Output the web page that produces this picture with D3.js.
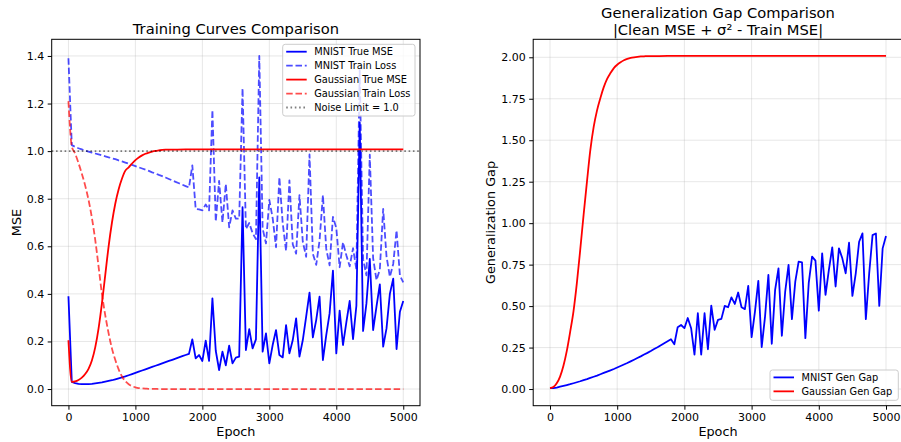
<!DOCTYPE html>
<html>
<head>
<meta charset="utf-8">
<script src="https://cdnjs.cloudflare.com/ajax/libs/d3/7.8.5/d3.min.js"></script>
<style>
  body { margin: 0; background: #fff; }
  svg { display: block; font-family: "DejaVu Sans", sans-serif; }
</style>
</head>
<body>
<div id="plot"></div>
<script>
// MNIST runs are logged every 50 epochs
var epochs = d3.range(0, 5001, 50)

var mnistTrueMse = [
  0.390, 0.030, 0.025, 0.022, 0.021, 0.021, 0.021, 0.022, 0.024, 0.026,
  0.028, 0.031, 0.034, 0.037, 0.041, 0.045, 0.049, 0.053, 0.058, 0.063,
  0.068, 0.073, 0.078, 0.083, 0.088, 0.093, 0.098, 0.103, 0.108, 0.113,
  0.118, 0.123, 0.128, 0.133, 0.138, 0.143, 0.148, 0.209, 0.129, 0.143,
  0.118, 0.203, 0.118, 0.381, 0.161, 0.080, 0.157, 0.100, 0.182, 0.108,
  0.132, 0.136, 0.764, 0.164, 0.252, 0.171, 0.209, 0.890, 0.157, 0.234,
  0.108, 0.185, 0.248, 0.143, 0.133, 0.269, 0.150, 0.206, 0.297, 0.136,
  0.206, 0.304, 0.405, 0.217, 0.290, 0.388, 0.122, 0.227, 0.318, 0.498,
  0.150, 0.330, 0.185, 0.280, 0.370, 0.210, 0.350, 1.120, 0.244, 0.360,
  0.547, 0.248, 0.346, 0.440, 0.178, 0.255, 0.400, 0.464, 0.168, 0.325,
  0.370
]

var mnistTrainLoss = [
  1.390, 1.025, 1.018, 1.012, 1.007, 1.002, 0.998, 0.994, 0.990, 0.986,
  0.982, 0.978, 0.974, 0.970, 0.966, 0.961, 0.957, 0.952, 0.947, 0.942,
  0.937, 0.932, 0.927, 0.922, 0.917, 0.911, 0.906, 0.900, 0.895, 0.889,
  0.883, 0.877, 0.871, 0.865, 0.859, 0.853, 0.847, 0.940, 0.757, 0.755,
  0.751, 0.776, 0.751, 1.173, 0.704, 0.875, 0.700, 0.862, 0.680, 0.751,
  0.716, 0.716, 1.264, 0.673, 0.698, 0.655, 0.630, 1.400, 0.675, 0.612,
  0.795, 0.718, 0.596, 0.890, 0.696, 0.581, 0.877, 0.608, 0.569, 0.815,
  0.618, 0.556, 0.986, 0.569, 0.522, 0.624, 0.815, 0.589, 0.520, 0.724,
  0.677, 0.512, 0.617, 0.562, 0.516, 0.592, 0.502, 1.340, 0.546, 0.478,
  0.985, 0.550, 0.458, 0.502, 0.757, 0.557, 0.472, 0.526, 0.667, 0.477,
  0.448
]

var mnistGenGap = [
  0.005, 0.006, 0.009, 0.014, 0.019, 0.024, 0.029, 0.035, 0.041, 0.047,
  0.054, 0.060, 0.067, 0.074, 0.081, 0.089, 0.097, 0.105, 0.113, 0.121,
  0.130, 0.139, 0.148, 0.157, 0.167, 0.177, 0.187, 0.197, 0.208, 0.218,
  0.229, 0.241, 0.252, 0.264, 0.276, 0.288, 0.300, 0.270, 0.373, 0.386,
  0.367, 0.428, 0.367, 0.207, 0.457, 0.207, 0.457, 0.240, 0.503, 0.357,
  0.417, 0.423, 0.501, 0.493, 0.553, 0.513, 0.582, 0.493, 0.482, 0.622,
  0.313, 0.467, 0.652, 0.253, 0.437, 0.688, 0.273, 0.598, 0.728, 0.321,
  0.588, 0.748, 0.421, 0.648, 0.768, 0.764, 0.307, 0.638, 0.798, 0.774,
  0.473, 0.818, 0.568, 0.718, 0.854, 0.618, 0.848, 0.788, 0.698, 0.882,
  0.562, 0.698, 0.888, 0.938, 0.421, 0.698, 0.928, 0.938, 0.501, 0.848,
  0.922
]

// Gaussian runs are smooth, fewer points needed once they flatten out
var gaussEpochs = [
  0, 50, 100, 150, 200, 250, 300, 350, 400, 450,
  500, 550, 600, 650, 700, 750, 800, 850, 900, 950,
  1000, 1050, 1100, 1150, 1200, 1250, 1300, 1350, 1400, 1450,
  1500, 1750, 2000, 2500, 3000, 3500, 4000, 4500, 5000
]

var gaussTrueMse = [
  0.205, 0.030, 0.032, 0.038, 0.048, 0.063, 0.085, 0.120, 0.175, 0.255,
  0.360, 0.480, 0.600, 0.700, 0.780, 0.840, 0.885, 0.918, 0.932, 0.948,
  0.962, 0.973, 0.982, 0.989, 0.994, 0.998, 1.001, 1.003, 1.005, 1.006,
  1.006, 1.007, 1.007, 1.007, 1.007, 1.007, 1.007, 1.007, 1.007
]

var gaussTrainLoss = [
  1.210, 1.020, 0.990, 0.950, 0.905, 0.855, 0.795, 0.720, 0.627, 0.515,
  0.400, 0.310, 0.234, 0.170, 0.122, 0.083, 0.053, 0.033, 0.020, 0.012,
  0.007, 0.004, 0.003, 0.002, 0.001, 0.001, 0.001, 0.000, 0.000, 0.000,
  0.000, 0.000, 0.000, 0.000, 0.000, 0.000, 0.000, 0.000, 0.000
]

var gaussGenGap = [
  0.005, 0.012, 0.035, 0.075, 0.140, 0.230, 0.345, 0.470, 0.640, 0.840,
  1.050, 1.250, 1.440, 1.580, 1.680, 1.755, 1.820, 1.870, 1.905, 1.935,
  1.955, 1.970, 1.982, 1.990, 1.996, 2.000, 2.003, 2.005, 2.006, 2.007,
  2.007, 2.008, 2.008, 2.008, 2.008, 2.008, 2.008, 2.008, 2.008
]

var noiseLimit = 1.0

var xTicks = [0, 1000, 2000, 3000, 4000, 5000]
var mseTicks = [0.0, 0.2, 0.4, 0.6, 0.8, 1.0, 1.2, 1.4]
var gapTicks = [0.0, 0.25, 0.5, 0.75, 1.0, 1.25, 1.5, 1.75, 2.0]

var svgWidth = 901
var svgHeight = 442

var svg = d3.select("#plot")
  .append("svg")
  .attr("width", svgWidth)
  .attr("height", svgHeight)

// matplotlib style 5% padding around the data
function padded(values) {
  var lo = d3.min(values), hi = d3.max(values)
  var pad = (hi - lo) * 0.05
  return [lo - pad, hi + pad]
}

function makePanel(box, yDomain, yTicks, yFormat) {
  var x = d3.scaleLinear().domain([-250, 5250]).range([box.left, box.right])
  var y = d3.scaleLinear().domain(yDomain).range([box.bottom, box.top])
  var g = svg.append("g")

  // grid
  g.selectAll(".vgrid").data(xTicks).enter().append("line")
    .attr("x1", d => x(d)).attr("x2", d => x(d))
    .attr("y1", box.top).attr("y2", box.bottom)
    .attr("stroke", "#b0b0b0").attr("stroke-opacity", 0.3).attr("stroke-width", 1)
  g.selectAll(".hgrid").data(yTicks).enter().append("line")
    .attr("x1", box.left).attr("x2", box.right)
    .attr("y1", d => y(d)).attr("y2", d => y(d))
    .attr("stroke", "#b0b0b0").attr("stroke-opacity", 0.3).attr("stroke-width", 1)

  // axes
  var bottomAxis = d3.axisBottom(x).tickValues(xTicks).tickFormat(d3.format("d"))
    .tickSize(4).tickPadding(3.5).tickSizeOuter(0)
  var leftAxis = d3.axisLeft(y).tickValues(yTicks).tickFormat(d3.format(yFormat))
    .tickSize(4).tickPadding(3.5).tickSizeOuter(0)

  var xa = g.append("g").attr("transform", `translate(0, ${box.bottom})`).call(bottomAxis)
  var ya = g.append("g").attr("transform", `translate(${box.left}, 0)`).call(leftAxis)
  ;[xa, ya].forEach(a => {
    a.select(".domain").remove()
    a.selectAll("text").style("font-size", "11px").style("font-family", "DejaVu Sans").attr("fill", "#000")
    a.selectAll("line").attr("stroke", "#000").attr("stroke-width", 1)
  })

  return { x: x, y: y, g: g, box: box }
}

function drawLine(p, xs, ys, color, opts) {
  opts = opts || {}
  var line = d3.line()
    .x((d, i) => p.x(xs[i]))
    .y(d => p.y(d))
    .curve(opts.smooth ? d3.curveMonotoneX : d3.curveLinear)
  p.g.append("path")
    .datum(ys)
    .attr("d", line)
    .attr("fill", "none")
    .attr("stroke", color)
    .attr("stroke-width", 1.8)
    .attr("stroke-opacity", opts.opacity || 1)
    .attr("stroke-dasharray", opts.dash || null)
    .attr("stroke-linejoin", "round")
}

function drawFrame(p) {
  var b = p.box
  p.g.append("rect")
    .attr("x", b.left).attr("y", b.top)
    .attr("width", b.right - b.left).attr("height", b.bottom - b.top)
    .attr("fill", "none").attr("stroke", "#000").attr("stroke-width", 1)
}

function drawLegend(p, box, items) {
  var lg = p.g.append("g")
  lg.append("rect")
    .attr("x", box.x).attr("y", box.y)
    .attr("width", box.w).attr("height", box.h)
    .attr("rx", 2.5)
    .attr("fill", "#fff").attr("fill-opacity", 0.8)
    .attr("stroke", "#cccccc").attr("stroke-width", 1)
  items.forEach((it, i) => {
    var cy = box.y + 7.4 + i * 13.95
    lg.append("line")
      .attr("x1", box.x + 3.5).attr("x2", box.x + 24)
      .attr("y1", cy).attr("y2", cy)
      .attr("stroke", it.color)
      .attr("stroke-width", 1.8)
      .attr("stroke-opacity", it.opacity || 1)
      .attr("stroke-dasharray", it.dash || null)
    lg.append("text")
      .attr("x", box.x + 31.5).attr("y", cy)
      .attr("dy", "0.35em")
      .style("font-size", "9.8px")
      .text(it.label)
  })
}

// ---- left panel: training curves
var left = makePanel({ left: 51.7, right: 420, top: 39.3, bottom: 405.7 },
  padded(mnistTrueMse.concat(mnistTrainLoss, gaussTrueMse, gaussTrainLoss)),
  mseTicks, ".1f")

var trainDash = "6.5,2.8"
var dotDash = "1.6,2.7"

drawLine(left, epochs, mnistTrueMse, "blue")
drawLine(left, epochs, mnistTrainLoss, "blue", { dash: trainDash, opacity: 0.7 })
drawLine(left, gaussEpochs, gaussTrueMse, "red", { smooth: true })
drawLine(left, gaussEpochs, gaussTrainLoss, "red", { dash: trainDash, opacity: 0.7, smooth: true })

left.g.append("line")
  .attr("x1", left.box.left).attr("x2", left.box.right)
  .attr("y1", left.y(noiseLimit)).attr("y2", left.y(noiseLimit))
  .attr("stroke", "#000").attr("stroke-opacity", 0.5)
  .attr("stroke-width", 1.8).attr("stroke-dasharray", dotDash)

drawFrame(left)

drawLegend(left, { x: 282.7, y: 44.3, w: 132.3, h: 71.7 }, [
  { label: "MNIST True MSE", color: "blue" },
  { label: "MNIST Train Loss", color: "blue", dash: trainDash, opacity: 0.7 },
  { label: "Gaussian True MSE", color: "red" },
  { label: "Gaussian Train Loss", color: "red", dash: trainDash, opacity: 0.7 },
  { label: "Noise Limit = 1.0", color: "#000", dash: dotDash, opacity: 0.5 }
])

svg.append("text")
  .attr("x", 235.9).attr("y", 34)
  .attr("text-anchor", "middle")
  .style("font-size", "14.7px")
  .text("Training Curves Comparison")

svg.append("text")
  .attr("x", 235.9).attr("y", 436.3)
  .attr("text-anchor", "middle")
  .style("font-size", "12.8px")
  .text("Epoch")

svg.append("text")
  .attr("transform", `translate(21.4, ${(39.3 + 405.7) / 2}) rotate(-90)`)
  .attr("text-anchor", "middle")
  .style("font-size", "12.8px")
  .text("MSE")

// ---- right panel: generalization gap
var right = makePanel({ left: 533.2, right: 902.8, top: 39.3, bottom: 405.7 },
  padded(mnistGenGap.concat(gaussGenGap, [0])),
  gapTicks, ".2f")

drawLine(right, epochs, mnistGenGap, "blue")
drawLine(right, gaussEpochs, gaussGenGap, "red", { smooth: true })

drawFrame(right)

drawLegend(right, { x: 770, y: 370, w: 128.3, h: 30.3 }, [
  { label: "MNIST Gen Gap", color: "blue" },
  { label: "Gaussian Gen Gap", color: "red" }
])

svg.append("text")
  .attr("x", 718).attr("y", 18)
  .attr("text-anchor", "middle")
  .style("font-size", "14.7px")
  .text("Generalization Gap Comparison")

svg.append("text")
  .attr("x", 718).attr("y", 34.5)
  .attr("text-anchor", "middle")
  .style("font-size", "14.7px")
  .text("|Clean MSE + σ² - Train MSE|")

svg.append("text")
  .attr("x", 718).attr("y", 436.3)
  .attr("text-anchor", "middle")
  .style("font-size", "12.8px")
  .text("Epoch")

svg.append("text")
  .attr("transform", `translate(494.5, ${(39.3 + 405.7) / 2}) rotate(-90)`)
  .attr("text-anchor", "middle")
  .style("font-size", "12.8px")
  .text("Generalization Gap")
</script>
</body>
</html>
